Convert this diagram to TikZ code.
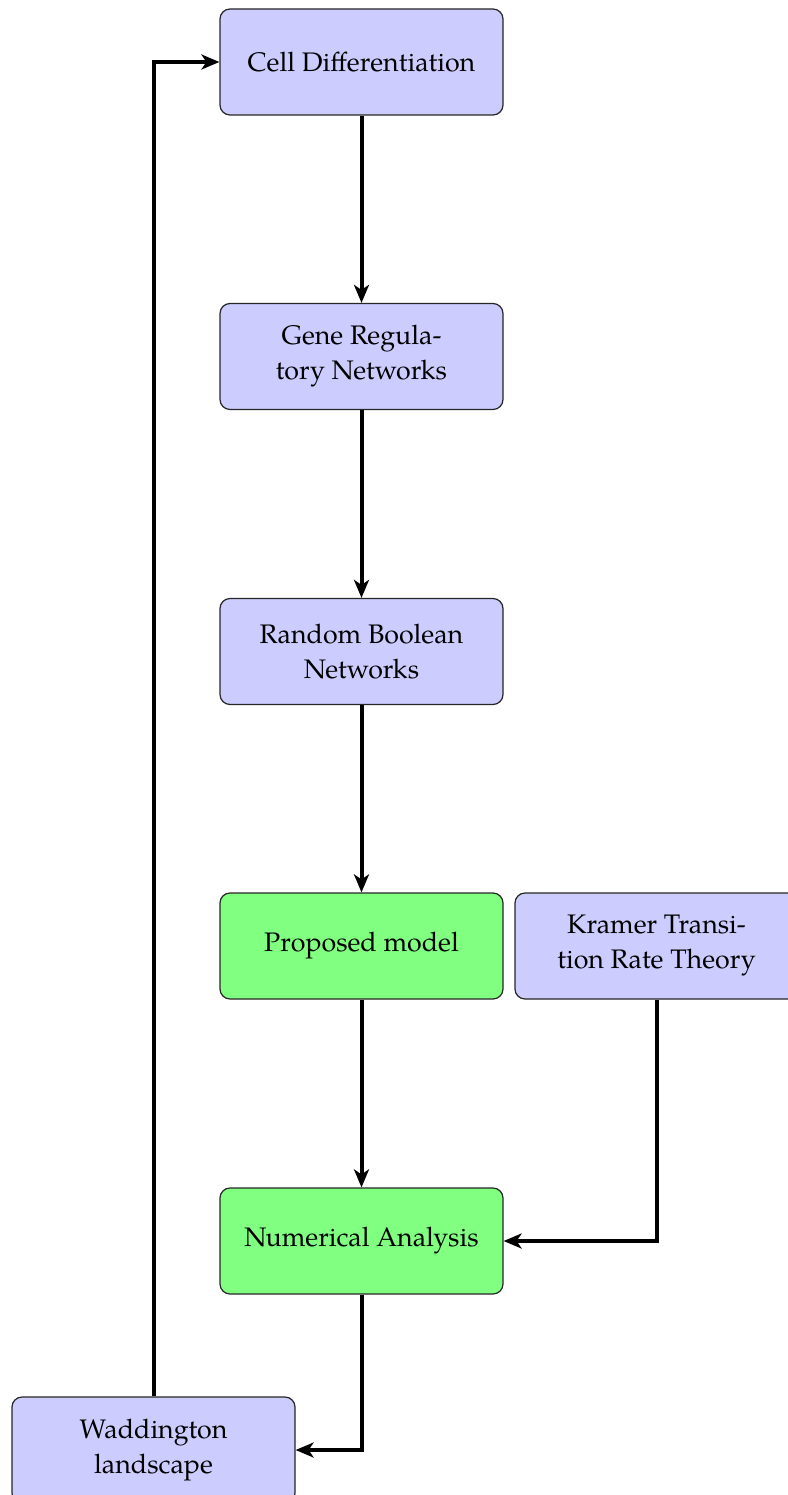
\documentclass[tikz,border=0pt]{standalone}
\usepackage{fontspec}
\setmainfont{TeX Gyre Pagella}
\usetikzlibrary{arrows.meta}
\definecolor{blueish}{RGB}{204,204,255}
\definecolor{greenish}{RGB}{128,255,128}
\begin{document}
\begin{tikzpicture}[x=1pt,y=-1pt,
  box/.style={draw=black!85, line width=1.2pt, rounded corners=10pt,
    minimum width=283pt, minimum height=106pt, align=center,
    font=\fontsize{26.8}{35}\selectfont, inner sep=0pt},
  bluebox/.style={box, fill=blueish},
  greenbox/.style={box, fill=greenish},
  link/.style={line width=4pt, -{Stealth[length=18pt,width=15pt,inset=5pt]}}]
\useasboundingbox (0,0) rectangle (787,1495);
\node[bluebox] (cell) at (361.5,62) {Cell Differentiation};
\node[bluebox] (gene) at (361.5,356.5) {Gene Regula-\\tory Networks};
\node[bluebox] (rbn) at (361.5,651.5) {Random Boolean\\Networks};
\node[greenbox] (prop) at (361.5,946) {Proposed model};
\node[bluebox] (kram) at (656.5,946) {Kramer Transi-\\tion Rate Theory};
\node[greenbox] (num) at (361.5,1241) {Numerical Analysis};
\node[bluebox] (wad) at (153.5,1450) {Waddington\\landscape};
\draw[link] (cell) -- (gene);
\draw[link] (gene) -- (rbn);
\draw[link] (rbn) -- (prop);
\draw[link] (prop) -- (num);
\draw[link] (kram.south) |- (num.east);
\draw[link] (num.south) |- (wad.east);
\draw[link] (wad.north) |- (cell.west);
\end{tikzpicture}
\end{document}
